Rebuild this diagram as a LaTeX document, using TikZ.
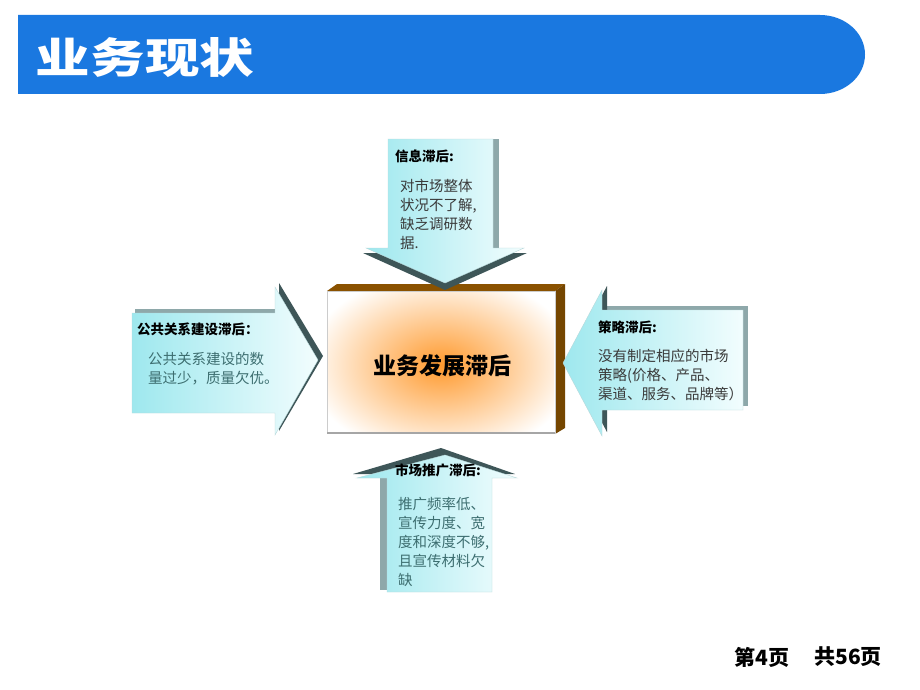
\documentclass[tikz,border=0pt]{standalone}
\usepackage{fontspec}
\setmainfont{Noto Sans CJK SC}
\definecolor{titleblue}{HTML}{1A78E0}
\definecolor{arrowcyan}{HTML}{9EE8EE}
\definecolor{arrowpale}{HTML}{F2FDFE}
\definecolor{arrowdark}{HTML}{3E5658}
\definecolor{arrowside}{HTML}{8EA8AA}
\definecolor{arrowline}{HTML}{B8D8DA}
\definecolor{boxbrown}{HTML}{8A5200}
\definecolor{glow}{HTML}{FF9A2E}
\definecolor{bodygray}{HTML}{3A3A3A}
\definecolor{bodyteal}{HTML}{3D6E70}
\tikzset{
  shadowfill/.style={fill=arrowdark, draw=none},
  sidefill/.style={fill=arrowside, draw=none},
  arrowfill/.style={left color=arrowcyan, right color=arrowpale, draw=arrowline, line width=0.4pt},
  headtxt/.style={anchor=north west, inner sep=0pt, font=\fontsize{13.5}{17}\selectfont\bfseries},
  bodytxt/.style={anchor=north west, inner sep=0pt, align=left, text=bodygray, font=\fontsize{14.5}{19}\selectfont},
}

\begin{document}
\begin{tikzpicture}[x=1pt, y=-1pt]
	\useasboundingbox (0,0) rectangle (920,690);
	\fill[white] (0,0) rectangle (920,690);

	% title bar
	\fill[titleblue] (18,15) -- (820,15) arc[start angle=-90, end angle=90, x radius=45, y radius=39.5] -- (18,94) -- cycle;
	\node[text=white, font=\fontsize{42}{42}\selectfont\bfseries] (title) at (145,58) {\scalebox{1.3}[1]{业务现状}};

	% centre box
	\fill[boxbrown] (327,291) -- (337,284) -- (565,284) -- (555,291) -- cycle;
	\fill[boxbrown!85!black] (555,291) -- (565,284) -- (565,428) -- (555,434) -- cycle;
	\draw[gray!40, fill=white] (327,291) rectangle (555,433);
	\begin{scope}
		\clip (328,292) rectangle (554,432);
		\shade[inner color=glow, outer color=white] (441,365) ellipse (135 and 92);
	\end{scope}
	\draw[gray!70, line width=2pt] (327,433) -- (555,433);
	\node[font=\fontsize{23}{23}\selectfont\bfseries] (core) at (442,366) {业务发展滞后};

	% top arrow
	\fill[sidefill] (493,139) rectangle (499,250);
	\fill[shadowfill] (363,253) -- (527,253) -- (445,290) -- cycle;
	\draw[arrowfill] (388,139) -- (493,139) -- (493,248) -- (524,248) -- (445,283) -- (366,248) -- (388,248) -- cycle;
	\node[headtxt] (infohead) at (395,150) {信息滞后:};
	\node[bodytxt] (infobody) at (400,179) {对市场整体\\状况不了解,\\缺乏调研数\\据.};

	% left arrow
	\fill[sidefill] (135,309) rectangle (279,314);
	\fill[shadowfill] (279,283) -- (323,356) -- (279,431) -- cycle;
	\draw[arrowfill] (132,313) -- (275,313) -- (275,287) -- (318,360) -- (275,435) -- (275,413) -- (132,413) -- cycle;
	\node[headtxt] (pubhead) at (137,323) {公共关系建设滞后：};
	\node[bodytxt, text=bodyteal] (pubbody) at (148,352) {公共关系建设的数\\量过少，质量欠优。};

	% right arrow
	\fill[sidefill] (605,306) rectangle (748,406);
	\fill[shadowfill] (568,359) -- (607,286) -- (607,432) -- cycle;
	\draw[arrowfill] (563,363) -- (602,290) -- (602,310) -- (743,310) -- (743,410) -- (602,410) -- (602,436) -- cycle;
	\node[headtxt] (planhead) at (598,321) {策略滞后:};
	\begin{scope}
		\clip (560,280) rectangle (746,440);
		\node[bodytxt] (planbody) at (598,349) {没有制定相应的市场\\策略(价格、产品、\\渠道、服务、品牌等）};
	\end{scope}

	% bottom arrow
	\fill[sidefill] (380,474) rectangle (389,590);
	\fill[shadowfill] (441,448) -- (515,474) -- (353,474) -- cycle;
	\draw[arrowfill] (445,455) -- (517,478) -- (492,478) -- (492,592) -- (387,592) -- (387,478) -- (357,478) -- cycle;
	\node[headtxt] (markhead) at (395,464) {市场推广滞后:};
	\node[bodytxt, text=bodyteal] (markbody) at (398,497) {推广频率低、\\宣传力度、宽\\度和深度不够,\\且宣传材料欠\\缺};

	% page number
	\node[font=\fontsize{21}{21}\selectfont\bfseries] (pagecur) at (762,657) {第4页};
	\node[font=\fontsize{21}{21}\selectfont\bfseries] (pageall) at (848,657) {共56页};
\end{tikzpicture}
\end{document}
